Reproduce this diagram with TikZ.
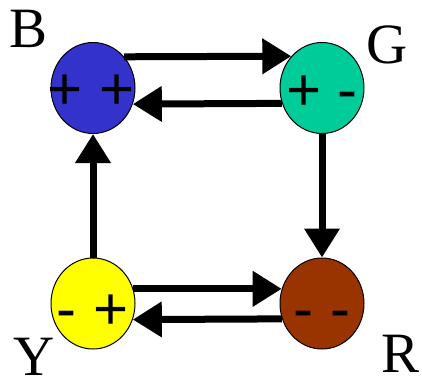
\documentclass[tikz,border=0pt]{standalone}
\usepackage{fontspec}
\setmainfont{Liberation Serif}
\newfontfamily\signfont{Liberation Sans}
\usetikzlibrary{arrows.meta,shapes.geometric}
\definecolor{cB}{RGB}{51,51,204}
\definecolor{cG}{RGB}{0,204,153}
\definecolor{cY}{RGB}{255,255,0}
\definecolor{cR}{RGB}{153,51,0}
\tikzset{
  state/.style={ellipse, draw=black, line width=1pt, minimum width=84pt, minimum height=91pt, inner sep=0pt},
  sign/.style={anchor=base, inner sep=0pt, font=\signfont\fontsize{60}{60}\selectfont},
  lab/.style={anchor=base, inner sep=0pt, font=\fontsize{57}{57}\selectfont},
  arr/.style={line width=7pt, -{Triangle[length=29pt,width=34pt]}}
}
\begin{document}
\begin{tikzpicture}[x=1pt,y=-1pt]
\useasboundingbox (0,0) rectangle (422,389);
\node[state, fill=cB] (B) at (93,88) {};
\node[state, fill=cG] (G) at (322,88) {};
\node[state, fill=cY] (Y) at (93,303.5) {};
\node[state, fill=cR] (R) at (322,303.5) {};
\node[sign] (Bs) at (91,109) {+ +};
\node[sign] (Gs) at (322,110) {+ -};
\node[sign] (Ys) at (92.5,329) {- +};
\node[sign] (Rs) at (322,329) {- -};
\node[lab] (Bl) at (28.5,47) {B};
\node[lab] (Gl) at (387,63) {G};
\node[lab] (Yl) at (34,375) {Y};
\node[lab] (Rl) at (401,372) {R};
\draw[arr] (B.45.3) -- (G.134.7);
\draw[arr] (G.201.4) -- (B.338.6);
\draw[arr] (Y.20) -- (R.160);
\draw[arr] (R.201.4) -- (Y.338.6);
\draw[arr] (G.south) -- (R.north);
\draw[arr] (Y.north) -- (B.south);
\end{tikzpicture}
\end{document}
